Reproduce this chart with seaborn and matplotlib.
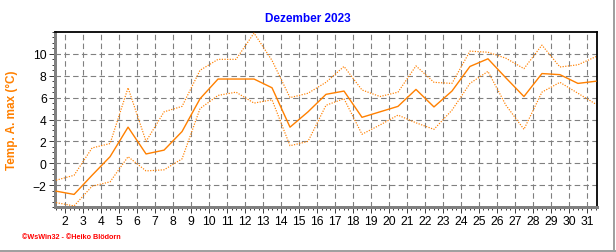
import matplotlib
matplotlib.use("Agg")
import matplotlib.pyplot as plt
import numpy as np
import pandas as pd
import seaborn as sns
from matplotlib.lines import Line2D
from matplotlib.ticker import MultipleLocator

# daily values, December 2023
days = list(range(1, 32))
upper = [-1.55, -1.1, 1.4, 1.8, 6.9, 2.0, 4.7, 5.2, 8.5, 9.5, 9.5, 11.9, 9.4, 6.0, 6.4, 7.4,
         8.85, 6.7, 6.1, 6.5, 8.9, 7.4, 7.3, 10.25, 10.15, 9.6, 8.65, 10.8, 8.8, 9.0, 9.75]
tmax = [-2.55, -2.85, -1.1, 0.6, 3.3, 0.85, 1.2, 2.9, 5.9, 7.7, 7.7, 7.7, 6.9, 3.3, 4.7, 6.3,
        6.6, 4.2, 4.7, 5.2, 6.75, 5.15, 6.6, 8.85, 9.55, 7.8, 6.1, 8.2, 8.1, 7.3, 7.5]
lower = [-3.6, -3.9, -2.1, -1.7, 0.6, -0.7, -0.6, 0.4, 5.0, 6.2, 6.5, 5.5, 5.8, 1.6, 2.0, 5.3,
         5.9, 2.65, 3.5, 4.4, 3.7, 3.1, 4.85, 7.3, 8.4, 5.3, 3.1, 6.5, 7.4, 6.4, 5.4]
day_ticks = list(range(2, 32))
temp_ticks = [-2, 0, 2, 4, 6, 8, 10]

ORANGE = "#FF8000"
GRID = "#808080"
PX = 0.72  # one pixel in points at 100 dpi

plt.rcParams["font.family"] = ["Liberation Sans", "DejaVu Sans"]

df = pd.DataFrame({"day": np.array(days) + 0.5, "upper": upper, "tmax": tmax, "lower": lower})

fig = plt.figure(figsize=(6.16, 2.53), dpi=100)
ax = fig.add_axes([55 / 616, 1 - 208 / 253, 542 / 616, 175 / 253])

sns.lineplot(data=df, x="day", y="upper", ax=ax, color=ORANGE, lw=PX * 1.2,
             linestyle=(0, (1, 1.2)), zorder=3)
sns.lineplot(data=df, x="day", y="lower", ax=ax, color=ORANGE, lw=PX * 1.2,
             linestyle=(0, (1, 1.2)), zorder=3)
sns.lineplot(data=df, x="day", y="tmax", ax=ax, color=ORANGE, lw=PX * 1.4, zorder=4)

ax.set_xlim(1.44, 31.56)
ax.set_ylim(-4, 12)
ax.set_xticks(day_ticks)
ax.set_xticklabels([str(d) for d in day_ticks])
ax.set_yticks(temp_ticks)
ax.xaxis.set_minor_locator(MultipleLocator(0.25))
ax.yaxis.set_minor_locator(MultipleLocator(0.5))

ax.grid(True, which="major", color=GRID, linestyle=(0, (5, 3)), lw=PX * 1.1, zorder=1)
ax.set_axisbelow(True)

ax.tick_params(axis="both", which="major", labelsize=8.7, colors="#404040",
               labelcolor="black", width=PX, length=4, pad=2)
ax.tick_params(axis="both", which="minor", colors="#404040", width=PX, length=2)

for side in ("left", "bottom"):
    ax.spines[side].set_color("#808080")
    ax.spines[side].set_linewidth(PX * 3)
for side in ("top", "right"):
    ax.spines[side].set_color("black")
    ax.spines[side].set_linewidth(PX * 1.8)

ax.set_xlabel("")
ax.set_ylabel("Temp. A. max (°C)", color=ORANGE, fontsize=8.5, fontweight="bold", labelpad=11)

fig.text(0.5, 1 - 19 / 253, "Dezember 2023", color="#0000FF", fontsize=8.5,
         fontweight="bold", ha="center", va="center")
fig.text(22 / 616, 1 - 238 / 253, "©WsWin32 - ©Heiko Blödorn", color="#FF0000",
         fontsize=5.2, fontweight="bold", ha="left", va="center")

# grey frame along right and bottom image edge
fig.add_artist(Line2D([613.5 / 616, 613.5 / 616], [1 - 251.5 / 253, 1], transform=fig.transFigure,
                      color="#A0A0A0", lw=PX * 2))
fig.add_artist(Line2D([0, 614.5 / 616], [1 - 251.5 / 253, 1 - 251.5 / 253], transform=fig.transFigure,
                      color="#A0A0A0", lw=PX * 2))

fig.savefig("out.png", dpi=100, facecolor="white")
plt.close(fig)
